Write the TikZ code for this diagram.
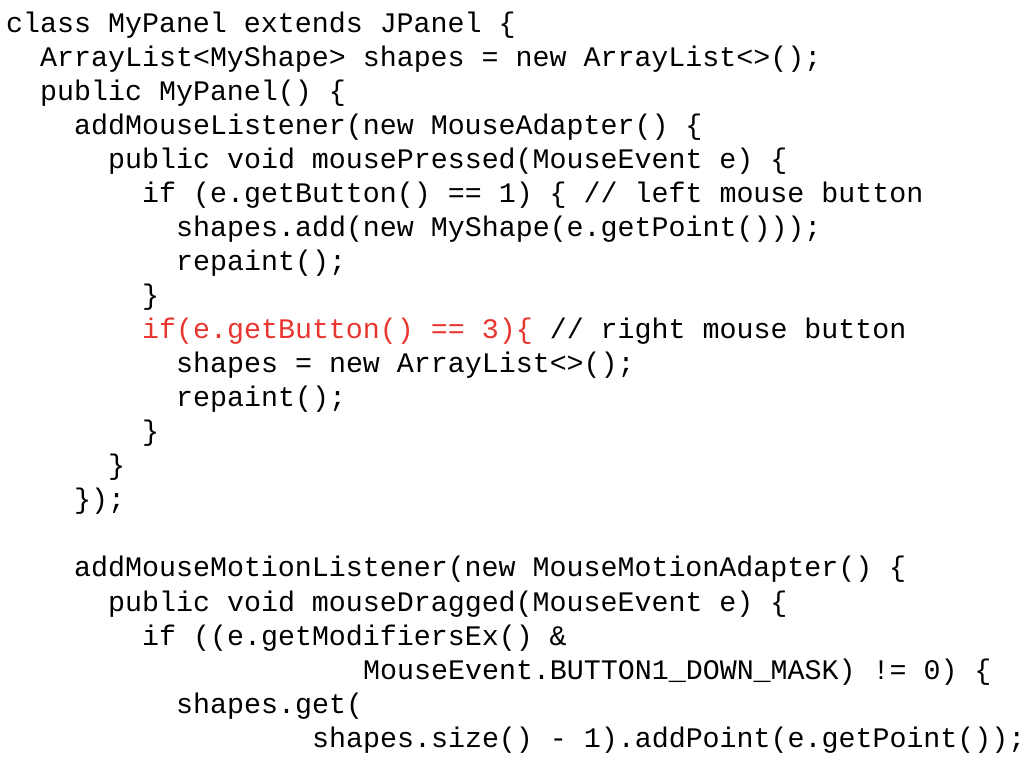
\documentclass[tikz,border=0pt]{standalone}
\usepackage{fontspec}
\setmonofont{Liberation Mono}
\definecolor{codered}{HTML}{E8362F}
\begin{document}
\begin{tikzpicture}[x=1pt,y=1pt,
  code/.style={anchor=base west,inner sep=0pt,font=\fontsize{28.3}{34}\ttfamily}]
\useasboundingbox (0,0) rectangle (1024,768);
\newcommand\cl[4]{\node[code] (#1) at ({6+17*#2},{768-33-34*#3}) {#4};}
\cl{l0}{0}{0}{class MyPanel extends JPanel \{}
\cl{l1}{2}{1}{ArrayList<MyShape> shapes = new ArrayList<>();}
\cl{l2}{2}{2}{public MyPanel() \{}
\cl{l3}{4}{3}{addMouseListener(new MouseAdapter() \{}
\cl{l4}{6}{4}{public void mousePressed(MouseEvent e) \{}
\cl{l5}{8}{5}{if (e.getButton() == 1) \{ // left mouse button}
\cl{l6}{10}{6}{shapes.add(new MyShape(e.getPoint()));}
\cl{l7}{10}{7}{repaint();}
\cl{l8}{8}{8}{\}}
\cl{l9}{8}{9}{\textcolor{codered}{if(e.getButton() == 3)\{} // right mouse button}
\cl{l10}{10}{10}{shapes = new ArrayList<>();}
\cl{l11}{10}{11}{repaint();}
\cl{l12}{8}{12}{\}}
\cl{l13}{6}{13}{\}}
\cl{l14}{4}{14}{\});}
\cl{l16}{4}{16}{addMouseMotionListener(new MouseMotionAdapter() \{}
\cl{l17}{6}{17}{public void mouseDragged(MouseEvent e) \{}
\cl{l18}{8}{18}{if ((e.getModifiersEx() \&}
\cl{l19}{21}{19}{MouseEvent.BUTTON1\_DOWN\_MASK) != 0) \{}
\cl{l20}{10}{20}{shapes.get(}
\cl{l21}{18}{21}{shapes.size() - 1).addPoint(e.getPoint());}
\end{tikzpicture}
\end{document}
